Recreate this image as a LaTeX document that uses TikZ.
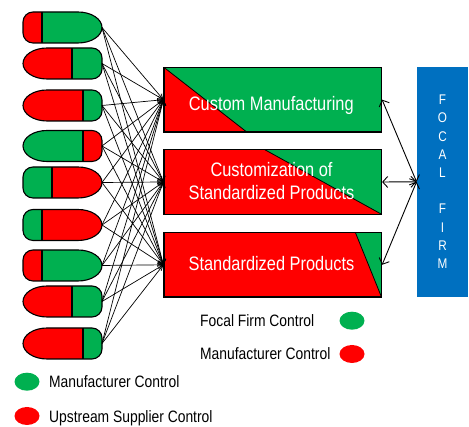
\documentclass[tikz,border=0pt]{standalone}
\usepackage{fontspec}
\setmainfont{Liberation Sans}[FakeStretch=0.84]
\usetikzlibrary{calc,arrows.meta,shapes.geometric}
\definecolor{mygreen}{RGB}{0,176,80}
\definecolor{myred}{RGB}{255,0,0}
\definecolor{myblue}{RGB}{0,112,192}
\newcommand\pillpathR[1]{(23,#1) -- (23,#1+5.5) arc[start angle=180,end angle=90,radius=10] -- (78,#1+15.5) arc[start angle=90,end angle=-90,x radius=24,y radius=15.5] -- (33,#1-15.5) arc[start angle=270,end angle=180,radius=10] -- cycle}
\newcommand\pillpathL[1]{(102,#1) -- (102,#1+5.5) arc[start angle=0,end angle=90,radius=10] -- (47,#1+15.5) arc[start angle=90,end angle=270,x radius=24,y radius=15.5] -- (92,#1-15.5) arc[start angle=270,end angle=360,radius=10] -- cycle}
% #1 centre y, #2 split x, #3 left colour, #4 right colour, #5 name
\newcommand\pillbigR[5]{%
  \begin{scope}
    \clip \pillpathR{#1};
    \fill[#3] (15,#1-20) rectangle (#2,#1+20);
    \fill[#4] (#2,#1-20) rectangle (110,#1+20);
  \end{scope}
  \draw[pillline] (#2,#1+15.5) -- (#2,#1-15.5);
  \draw[pillline] \pillpathR{#1};
  \coordinate (#5) at (102,#1);}
\newcommand\pillbigL[5]{%
  \begin{scope}
    \clip \pillpathL{#1};
    \fill[#3] (15,#1-20) rectangle (#2,#1+20);
    \fill[#4] (#2,#1-20) rectangle (110,#1+20);
  \end{scope}
  \draw[pillline] (#2,#1+15.5) -- (#2,#1-15.5);
  \draw[pillline] \pillpathL{#1};
  \coordinate (#5) at (102,#1);}
\tikzset{
  pillline/.style={line width=1.1pt, line join=round},
  prodbox/.style={draw, line width=1.2pt, minimum width=217.5pt, minimum height=64.5pt, inner sep=0pt},
  boxtext/.style={text=white, font=\fontsize{19.5}{23}\selectfont, inner sep=0pt, anchor=base},
  conn/.style={line width=0.7pt, -{Straight Barb[length=4.5pt,width=8pt]}},
  fconn/.style={line width=0.9pt, {Straight Barb[length=5pt,width=11pt]}-{Straight Barb[length=5pt,width=11pt]}},
  legdot/.style={ellipse, minimum width=25pt, minimum height=18pt, inner sep=0pt},
  legtext/.style={font=\fontsize{16.5}{19}\selectfont, inner sep=0pt, anchor=base west},
}
\begin{document}
\begin{tikzpicture}[x=1pt,y=1pt]
\useasboundingbox (0,0) rectangle (469,427);
% pills
\pillbigR{399.5}{42}{myred}{mygreen}{p1}
\pillbigL{363.5}{72}{myred}{mygreen}{p2}
\pillbigL{321.5}{83}{myred}{mygreen}{p3}
\pillbigL{281}{83}{mygreen}{myred}{p4}
\pillbigR{244.5}{52}{mygreen}{myred}{p5}
\pillbigR{202}{42}{mygreen}{myred}{p6}
\pillbigR{161.5}{42}{myred}{mygreen}{p7}
\pillbigL{125.5}{72}{myred}{mygreen}{p8}
\pillbigL{83.5}{83}{myred}{mygreen}{p9}
% product boxes
\node[prodbox, fill=mygreen, path picture={
  \fill[myred] (path picture bounding box.north west) -- (path picture bounding box.south west) -- ($(path picture bounding box.south west)!0.38!(path picture bounding box.south east)$) -- cycle;
  \draw[line width=0.8pt] (path picture bounding box.north west) -- ($(path picture bounding box.south west)!0.38!(path picture bounding box.south east)$);
}] (b1) at (272.75,327.3) {};
\node[prodbox, fill=myred, path picture={
  \fill[mygreen] ($(path picture bounding box.north west)!0.464!(path picture bounding box.north east)$) -- (path picture bounding box.north east) -- (path picture bounding box.south east) -- cycle;
  \draw[line width=0.8pt] ($(path picture bounding box.north west)!0.464!(path picture bounding box.north east)$) -- (path picture bounding box.south east);
}] (b2) at (272.75,245) {};
\node[prodbox, fill=myred, path picture={
  \fill[mygreen] ($(path picture bounding box.north west)!0.88!(path picture bounding box.north east)$) -- (path picture bounding box.north east) -- (path picture bounding box.south east) -- cycle;
  \draw[line width=0.8pt] ($(path picture bounding box.north west)!0.88!(path picture bounding box.north east)$) -- (path picture bounding box.south east);
}] (b3) at (272.75,162.2) {};
\node[boxtext] (t1) at (271.3,316.7) {Custom Manufacturing};
\node[boxtext] (t2a) at (271.5,250) {Customization of};
\node[boxtext] (t2b) at (271.5,227.3) {Standardized Products};
\node[boxtext] (t3) at (271.5,156) {Standardized Products};
% focal firm
\node[fill=myblue, minimum width=51.5pt, minimum height=229.7pt, inner sep=0pt, text=white, align=center, font=\fontsize{14}{18.2}\selectfont] (f) at (442.5,245.2) {F\\O\\C\\A\\L\\[18.2pt]F\\I\\R\\M};
% connectors
\foreach \p in {p1,p2,p3,p4,p5,p6,p7,p8,p9}
  \foreach \b in {b1,b2,b3}
    \draw[conn] (\p) -- (\b.west);
\foreach \b in {b1,b2,b3}
  \draw[fconn] (f.west) -- (\b.east);
% legends
\node[legtext] (l1) at (200,100.3) {Focal Firm Control};
\node[legdot, fill=mygreen] (d1) at (352,106.3) {};
\node[legtext] (l2) at (200,67.2) {Manufacturer Control};
\node[legdot, fill=myred] (d2) at (352,73) {};
\node[legdot, fill=mygreen] (d3) at (27,45.3) {};
\node[legtext] (l3) at (49,39.5) {Manufacturer Control};
\node[legdot, fill=myred] (d4) at (27,11) {};
\node[legtext] (l4) at (49,4.7) {Upstream Supplier Control};
\end{tikzpicture}
\end{document}
